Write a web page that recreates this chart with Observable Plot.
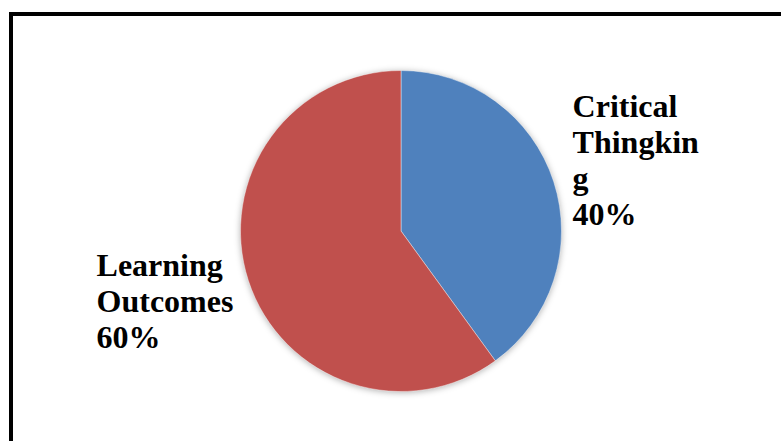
<!DOCTYPE html>
<html><head><meta charset="utf-8">
<script src="https://cdn.jsdelivr.net/npm/d3@7"></script>
<script src="https://cdn.jsdelivr.net/npm/@observablehq/plot@0.6"></script>
<style>
html,body{margin:0;padding:0;background:#fff;overflow:hidden}
#wrap{position:relative;width:781px;height:441px;overflow:hidden}
#chart{position:absolute;left:0;top:0}
#chart text{font-family:"Liberation Serif","Times New Roman",Tinos,serif;font-weight:bold}
#frame{position:absolute;left:9px;top:12px;width:820px;height:480px;border:4px solid #000;box-sizing:border-box;pointer-events:none}
</style></head><body>
<div id="wrap"><div id="chart"></div><div id="frame"></div></div>
<script>
const categories = ["Critical Thingking", "Learning Outcomes"];
const values = [40, 60];
const labelTexts = ["Critical\nThingkin\ng\n40%", "Learning\nOutcomes\n60%"];
const colors = ["#4F81BD", "#C0504D"];

const data = categories.map((c, i) => ({category: c, value: values[i], label: labelTexts[i]}));
const color = Plot.scale({color: {domain: categories, range: colors}});

// label placement (unit-circle coordinates, layout only)
const labelPos = {"Critical Thingking": [1.066, 0.875], "Learning Outcomes": [-1.90, -0.121]};
const labelData = data.map(d => ({...d, lx: labelPos[d.category][0], ly: labelPos[d.category][1]}));

function pieMark(index, scales) {
  const cx = scales.x(0), cy = scales.y(0), r = scales.x(1) - scales.x(0);
  const arcs = d3.pie().sort(null).value(d => d.value)(data);
  const g = d3.create("svg:g")
    .attr("transform", `translate(${cx},${cy})`)
    .style("filter", "drop-shadow(0px 1px 3px rgba(0,0,0,0.3))");
  g.selectAll("path").data(arcs).join("path")
    .attr("d", d3.arc().innerRadius(0).outerRadius(r))
    .attr("fill", d => color.apply(d.data.category))
    .attr("stroke", "rgba(255,255,255,0.6)")
    .attr("stroke-width", 0.7);
  return g.node();
}

const plot = Plot.plot({
  width: 781,
  height: 441,
  margin: 0,
  style: {background: "transparent"},
  x: {domain: [-1, 1], range: [240.5, 561.5], axis: null},
  y: {domain: [-1, 1], range: [391.5, 70.5], axis: null},
  marks: [
    pieMark,
    Plot.text(labelData, {
      x: "lx", y: "ly", text: "label",
      textAnchor: "start", lineAnchor: "top",
      fontSize: 32, fontWeight: "bold", fontFamily: "Liberation Serif",
      lineHeight: 1.125, fill: "#000"
    })
  ]
});
document.getElementById("chart").appendChild(plot);
</script>
</body></html>
